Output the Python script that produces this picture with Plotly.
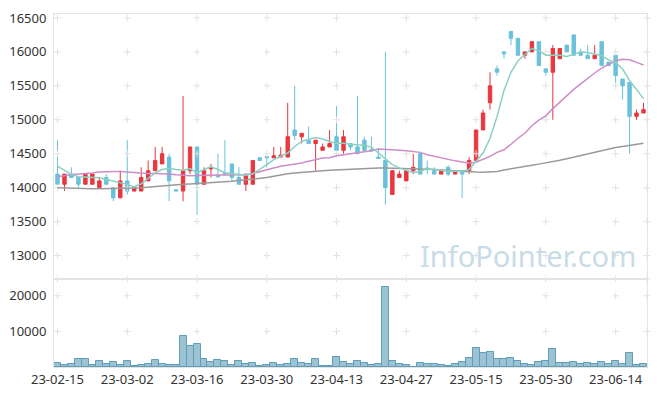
import plotly.graph_objects as go

dates = ["23-02-15","23-02-16","23-02-17","23-02-20","23-02-21","23-02-22","23-02-23","23-02-24","23-02-27","23-02-28",
         "23-03-02","23-03-03","23-03-06","23-03-07","23-03-08","23-03-09","23-03-10","23-03-13","23-03-14","23-03-15",
         "23-03-16","23-03-17","23-03-20","23-03-21","23-03-22","23-03-23","23-03-24","23-03-27","23-03-28","23-03-29",
         "23-03-30","23-03-31","23-04-03","23-04-04","23-04-05","23-04-06","23-04-07","23-04-10","23-04-11","23-04-12",
         "23-04-13","23-04-14","23-04-17","23-04-18","23-04-19","23-04-20","23-04-21","23-04-24","23-04-25","23-04-26",
         "23-04-27","23-04-28","23-05-02","23-05-03","23-05-04","23-05-08","23-05-09","23-05-10","23-05-11","23-05-12",
         "23-05-15","23-05-16","23-05-17","23-05-18","23-05-19","23-05-22","23-05-23","23-05-24","23-05-25","23-05-26",
         "23-05-30","23-05-31","23-06-01","23-06-02","23-06-05","23-06-07","23-06-08","23-06-09","23-06-12","23-06-13",
         "23-06-14","23-06-15","23-06-16","23-06-19","23-06-20"]

open_ = [14200,14050,14200,14150,14050,14050,14000,14150,14000,13850,
         14100,13950,13950,14100,14250,14350,14450,13970,13950,14250,
         14600,14050,14275,14180,14220,14350,14150,14050,14050,14440,
         14460,14440,14450,14450,14850,14750,14700,14650,14550,14600,
         14750,14550,14650,14600,14700,14560,14450,14400,13900,14150,
         14100,14250,14500,14290,14250,14200,14300,14200,14250,14250,
         14400,14850,15250,15750,16000,16300,16200,15950,16000,16150,
         15750,15700,15900,16100,16250,16000,15950,15900,16150,15850,
         15950,15600,15550,15050,15100]
high = [14700,14200,14300,14150,14200,14200,14150,14200,14000,14250,
        14700,14000,14300,14400,14600,14600,14500,13970,15350,14600,
        14600,14300,14350,14500,14700,14350,14300,14200,14400,14450,
        14460,14600,14600,15250,15500,14800,14900,14700,14650,14850,
        15200,14850,14650,15350,14750,14750,14580,16000,14250,14250,
        14250,14500,14500,14400,14300,14250,14330,14250,14250,14450,
        14850,15150,15700,15800,16000,16300,16200,16000,16150,16150,
        15750,16100,16050,16100,16250,16050,16100,16100,16150,15850,
        15950,15600,15550,15150,15250]
low = [14050,13950,14150,14000,14050,14050,14000,14050,13800,13850,
       13900,13950,13950,14100,14250,14350,13800,13950,13800,14200,
       13600,14050,14150,14150,14180,14100,14050,13950,14050,14400,
       14300,14440,14450,14450,14700,14650,14650,14250,14550,14600,
       14550,14500,14550,14500,14550,14540,14430,13750,13900,14150,
       14100,14200,14200,14200,14200,14200,14170,14200,13850,14200,
       14400,14850,15150,15650,15900,16100,15950,15900,16000,15800,
       15650,15000,15900,16000,15950,15950,15900,15900,15800,15800,
       15500,15300,14500,15000,15100]
close = [14050,14200,14150,14050,14200,14200,14100,14050,13850,14100,
         13950,14000,14150,14250,14400,14500,14100,13950,14250,14600,
         14050,14250,14300,14160,14200,14150,14050,14200,14400,14400,
         14440,14470,14480,14750,14770,14800,14650,14700,14600,14650,
         14550,14750,14600,14500,14550,14540,14430,14000,14250,14200,
         14250,14300,14200,14270,14200,14250,14200,14250,14200,14400,
         14850,15100,15500,15700,15970,16200,15950,16000,16150,15800,
         15700,16050,16050,16000,15950,15950,15900,15950,15800,15800,
         15650,15500,15050,15100,15150]
volume = [1100,550,830,2200,2200,550,1670,830,1300,550,
          1670,190,550,830,1940,830,550,550,8600,5830,
          6390,2200,1390,1940,1670,550,1670,830,1100,190,
          550,1100,550,830,2200,1100,830,2200,190,190,
          2780,1390,830,1670,1100,550,830,22500,1670,830,
          550,0,1100,830,830,550,190,830,1390,2500,
          5280,3890,4170,2200,2200,2500,1670,830,550,1390,
          1670,5000,1100,1100,1390,830,1100,830,1390,830,
          1670,830,3890,550,830]
ma5 = [14316,14253,14194,14160,14155,14155,14146,14121,14097,14073,
       14049,14010,14058,14136,14219,14267,14282,14267,14257,14282,
       14219,14267,14306,14267,14219,14204,14194,14185,14204,14267,
       14340,14413,14461,14510,14607,14680,14714,14738,14718,14680,
       14655,14655,14641,14631,14621,14597,14510,14437,14340,14291,
       14253,14219,14243,14277,14267,14253,14243,14243,14243,14267,
       14388,14510,14728,15044,15432,15699,15869,15966,16049,16015,
       15951,15951,15951,15932,15966,16000,15990,15966,15942,15883,
       15845,15748,15578,15447,15311]
ma20 = [14160,14180,14195,14200,14205,14215,14230,14240,14240,14240,
        14230,14220,14215,14210,14210,14210,14200,14190,14180,14175,
        14180,14185,14185,14185,14185,14185,14185,14190,14210,14240,
        14267,14290,14316,14330,14340,14364,14390,14413,14437,14440,
        14470,14485,14500,14510,14524,14545,14568,14565,14558,14550,
        14544,14535,14520,14486,14461,14437,14413,14395,14379,14364,
        14374,14413,14461,14520,14558,14640,14728,14801,14913,14995,
        15058,15165,15262,15350,15447,15529,15612,15689,15762,15820,
        15869,15893,15883,15845,15806]
ma60 = [14000,13995,13990,13985,13985,13985,13985,13985,13990,13990,
        13995,13995,14000,14010,14015,14025,14030,14040,14050,14055,
        14060,14065,14073,14080,14090,14095,14105,14115,14130,14140,
        14150,14170,14190,14205,14215,14225,14238,14245,14250,14255,
        14260,14270,14280,14283,14285,14288,14290,14290,14288,14286,
        14284,14282,14278,14273,14267,14260,14253,14245,14238,14233,
        14230,14228,14232,14240,14260,14280,14300,14315,14330,14347,
        14364,14383,14403,14427,14452,14476,14500,14525,14549,14570,
        14592,14607,14621,14638,14655]

price_ticks = [13000, 13500, 14000, 14500, 15000, 15500, 16000, 16500]
vol_ticks = [10000, 20000]
label_every = 10

idx = list(range(len(dates)))
tick_idx = idx[::label_every]
tick_text = [dates[i] for i in tick_idx]

PRICE_RANGE = [12655, 16558]
VOL_RANGE = [0, 24720]
X_RANGE = [-0.5, len(dates) - 0.5]

UP = "#e8373e"
DOWN = "#6bc1da"
GRID = "#e2e2e2"
TEXT = "#333333"
FONT = "Noto Sans"

fig = go.Figure()

# grid crosses
cross_cols = tick_idx + [X_RANGE[1]]
gx, gy = [], []
for c in cross_cols:
    for t in price_ticks:
        gx.append(c); gy.append(t)
fig.add_trace(go.Scatter(x=gx, y=gy, mode="markers", xaxis="x", yaxis="y",
                         marker=dict(symbol="cross-thin", size=5, line=dict(width=1, color=GRID)),
                         hoverinfo="skip", showlegend=False, cliponaxis=False))
vx, vy = [], []
for c in cross_cols:
    for t in vol_ticks + [VOL_RANGE[1]]:
        vx.append(c); vy.append(t)
fig.add_trace(go.Scatter(x=vx, y=vy, mode="markers", xaxis="x2", yaxis="y2",
                         marker=dict(symbol="cross-thin", size=5, line=dict(width=1, color=GRID)),
                         hoverinfo="skip", showlegend=False, cliponaxis=False))

fig.add_trace(go.Candlestick(x=idx, open=open_, high=high, low=low, close=close,
                             xaxis="x", yaxis="y",
                             increasing=dict(line=dict(color=UP, width=1), fillcolor=UP),
                             decreasing=dict(line=dict(color=DOWN, width=1), fillcolor=DOWN),
                             whiskerwidth=0, showlegend=False))

fig.add_trace(go.Scatter(x=idx, y=ma60, mode="lines", xaxis="x", yaxis="y",
                         line=dict(color="#9a9a9a", width=1.5), showlegend=False))
fig.add_trace(go.Scatter(x=idx, y=ma20, mode="lines", xaxis="x", yaxis="y",
                         line=dict(color="#cc8dc8", width=1.5), showlegend=False))
fig.add_trace(go.Scatter(x=idx, y=ma5, mode="lines", xaxis="x", yaxis="y",
                         line=dict(color="#8dd0c3", width=1.5), showlegend=False))

fig.add_trace(go.Bar(x=idx, y=volume, xaxis="x2", yaxis="y2",
                     marker=dict(color="#9cc3d4", line=dict(color="#5f9db8", width=1)),
                     showlegend=False))

split = 89 / 357
axis_common = dict(showgrid=False, zeroline=False, showline=True, linecolor="#e4e4e4",
                   linewidth=1, mirror=True, ticks="")
fig.update_layout(
    width=657, height=397,
    margin=dict(l=53, r=9, t=11, b=29),
    paper_bgcolor="white", plot_bgcolor="white",
    font=dict(family=FONT, size=13, color=TEXT),
    bargap=0,
    hovermode=False,
    xaxis=dict(domain=[0, 1], range=X_RANGE, anchor="y", showticklabels=False,
               rangeslider=dict(visible=False), **axis_common),
    yaxis=dict(domain=[split, 1], range=PRICE_RANGE, tickvals=price_ticks,
               ticktext=[str(t) for t in price_ticks], ticklabelstandoff=4, **axis_common),
    xaxis2=dict(domain=[0, 1], range=X_RANGE, anchor="y2", tickvals=tick_idx,
                ticktext=tick_text, **axis_common),
    yaxis2=dict(domain=[0, split], range=VOL_RANGE, tickvals=vol_ticks,
                ticktext=[str(t) for t in vol_ticks], ticklabelstandoff=4, **axis_common),
    annotations=[dict(text="InfoPointer.com", xref="paper", yref="paper",
                      x=0.80, y=(368 - 255) / 357, xanchor="center", yanchor="middle",
                      showarrow=False, font=dict(family=FONT, size=29, color="#c8dce7"))],
)

fig.write_html("out.html", config={"displayModeBar": False},
               post_script="document.body.style.margin='0';")
